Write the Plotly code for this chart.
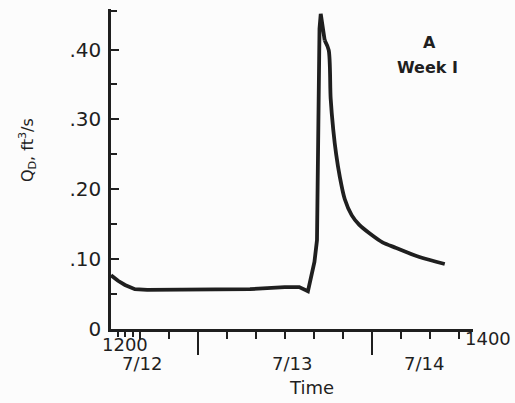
import plotly.graph_objects as go

# hours after 7/12 12:00
hours = [0, 0.97, 1.93, 3.3, 5, 12.3, 19.2, 24, 26, 27.2, 28.1, 28.45, 28.65, 28.8, 28.97,
         29.52, 30.07, 30.34, 30.7, 31.1, 31.6, 32.28, 33.24, 34.3, 35.7, 37.5, 39.4, 42.6, 46.1]
# discharge Q_D, ft^3/s
q = [0.077, 0.069, 0.063, 0.057, 0.056, 0.056, 0.057, 0.060, 0.060, 0.054, 0.096, 0.127, 0.327, 0.430, 0.451,
     0.413, 0.399, 0.330, 0.285, 0.250, 0.218, 0.186, 0.163, 0.149, 0.137, 0.124, 0.116, 0.103, 0.093]

y_ticks = [0, 0.10, 0.20, 0.30, 0.40]
y_tick_text = ["0", ".10", ".20", ".30", ".40"]
y_minor = [0.05, 0.15, 0.25, 0.35, 0.455]
x_hour_ticks = [1, 2, 3]
x_4h_ticks = [4, 8, 16, 20, 24, 28, 32, 40, 44, 48]
x_day_ticks = [12, 36]
day_labels = ["7/12", "7/13", "7/14"]
day_label_pos = [4.3, 25.0, 43.2]

ink = "#1f1f1f"
font = "DejaVu Sans"

peak = q.index(max(q))
fig = go.Figure()
# baseflow and rising limb (sharp corners)
fig.add_trace(go.Scatter(x=hours[:peak + 2], y=q[:peak + 2], mode="lines",
                         line=dict(color=ink, width=3.8), hoverinfo="skip", showlegend=False))
# recession limb (smooth)
fig.add_trace(go.Scatter(x=hours[peak + 1:], y=q[peak + 1:], mode="lines",
                         line=dict(color=ink, width=3.8, shape="spline", smoothing=0.8),
                         hoverinfo="skip", showlegend=False))
# helper trace for the day-boundary axis
fig.add_trace(go.Scatter(x=[0, 50], y=[0, 0], xaxis="x2", mode="lines",
                         line=dict(width=0), opacity=0, showlegend=False, hoverinfo="skip"))

fig.update_layout(
    width=515, height=403,
    margin=dict(l=111, r=41.5, t=9, b=74),
    paper_bgcolor="#fcfcfc", plot_bgcolor="#fcfcfc",
    font=dict(family=font, color=ink),
    xaxis=dict(range=[0, 50], showgrid=False, zeroline=False,
               showline=True, linecolor=ink, linewidth=2.5,
               tickmode="array", tickvals=x_4h_ticks, showticklabels=False,
               ticks="outside", ticklen=7, tickwidth=2, tickcolor=ink,
               minor=dict(tickmode="array", tickvals=x_hour_ticks, ticks="outside",
                          ticklen=5, tickwidth=2, tickcolor=ink),
               fixedrange=True),
    xaxis2=dict(range=[0, 50], overlaying="x", anchor="y", side="bottom",
                showgrid=False, zeroline=False, showline=False,
                tickmode="array", tickvals=x_day_ticks, showticklabels=False,
                ticks="outside", ticklen=25, tickwidth=2, tickcolor=ink),
    yaxis=dict(range=[0, 0.458], showgrid=False, zeroline=False,
               showline=True, linecolor=ink, linewidth=2.5,
               tickmode="array", tickvals=y_ticks, ticktext=y_tick_text,
               ticks="inside", ticklen=8, tickwidth=2, tickcolor=ink,
               ticklabelstandoff=3,
               minor=dict(tickmode="array", tickvals=y_minor, ticks="inside",
                          ticklen=6, tickwidth=2, tickcolor=ink),
               tickfont=dict(size=20, family=font, color=ink)),
)

def px_x(p):
    return (p - 111) / 362.5

def px_y(p):
    return (329 - p) / 320

ann = []
for lab, pos in zip(day_labels, day_label_pos):
    ann.append(dict(x=pos, y=px_y(363), xref="x", yref="paper", text=lab, showarrow=False,
                    font=dict(size=18, family=font, color=ink), xanchor="center", yanchor="middle"))
ann.append(dict(x=px_x(125), y=px_y(344), xref="paper", yref="paper", text="1200", showarrow=False,
                font=dict(size=18, family=font, color=ink), xanchor="center", yanchor="middle"))
ann.append(dict(x=px_x(489), y=px_y(338), xref="paper", yref="paper", text="1400", showarrow=False,
                font=dict(size=18, family=font, color=ink), xanchor="center", yanchor="middle"))
ann.append(dict(x=px_x(312), y=px_y(387), xref="paper", yref="paper", text="Time", showarrow=False,
                font=dict(size=18, family=font, color=ink), xanchor="center", yanchor="middle"))
ann.append(dict(x=px_x(27), y=px_y(150), xref="paper", yref="paper",
                text="Q<sub>D</sub>, ft<sup>3</sup>/s", showarrow=False, textangle=-90,
                font=dict(size=16, family=font, color=ink), xanchor="center", yanchor="middle"))
ann.append(dict(x=px_x(430), y=px_y(42), xref="paper", yref="paper", text="<b>A</b>", showarrow=False,
                font=dict(size=16, family=font, color=ink), xanchor="center", yanchor="middle"))
ann.append(dict(x=px_x(428), y=px_y(67), xref="paper", yref="paper", text="<b>Week I</b>", showarrow=False,
                font=dict(size=16, family=font, color=ink), xanchor="center", yanchor="middle"))
fig.update_layout(annotations=ann)

fig.write_html("out.html")
